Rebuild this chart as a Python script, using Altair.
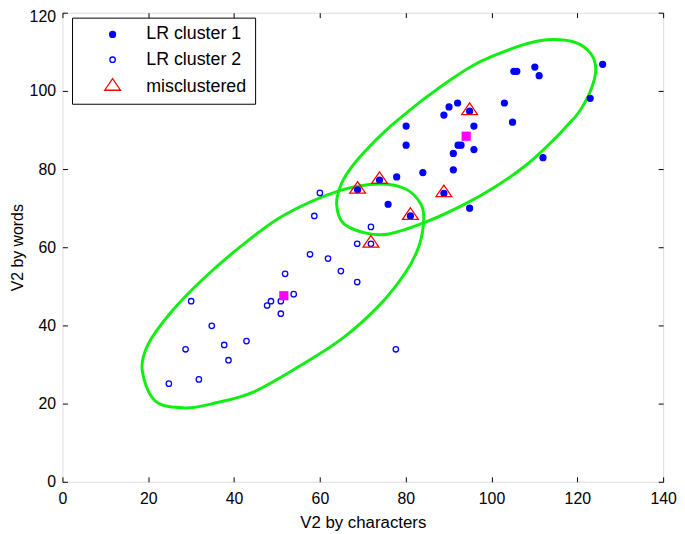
import altair as alt
import pandas as pd

# ---- data ----
c1_x = [105.2, 105.9, 110.1, 111.1, 125.9, 123.0, 103.0, 104.9, 112.0, 92.1,
        90.1, 88.9, 94.9, 95.9, 80.1, 80.1, 92.2, 92.9, 95.9, 91.1,
        91.1, 84.0, 77.9, 73.9, 68.8, 88.9, 75.9, 81.1, 94.9]
c1_y = [105.0, 105.0, 106.1, 103.9, 106.8, 98.1, 96.9, 92.0, 82.9, 96.9,
        95.9, 93.8, 94.8, 91.0, 91.0, 86.1, 86.1, 86.1, 85.0, 84.0,
        79.8, 79.1, 78.0, 77.2, 74.7, 73.8, 71.0, 68.0, 70.0]

c2_x = [60.0, 58.7, 71.9, 68.7, 71.9, 57.7, 61.9, 64.9, 51.9, 68.7,
        53.9, 48.6, 50.9, 47.7, 50.9, 30.0, 34.8, 42.9, 37.7, 28.7,
        38.7, 77.7, 31.8, 24.8]
c2_y = [73.9, 68.0, 65.2, 60.9, 60.9, 58.2, 57.1, 53.9, 53.2, 51.1,
        48.0, 46.2, 46.2, 45.1, 43.0, 46.2, 39.9, 36.0, 35.0, 33.9,
        31.1, 33.9, 26.2, 25.1]

mis_x = [94.9, 73.9, 68.8, 88.9, 81.1, 71.9]
mis_y = [94.8, 77.2, 74.7, 73.8, 68.0, 60.9]

cent_x = [94.1, 51.6]
cent_y = [88.4, 47.6]

ell1_x = [63.9, 65.0, 67.3, 70.8, 75.4, 80.0, 84.6, 90.4, 96.2, 101.9, 107.7, 113.0,
          119.2, 123.1, 124.3, 123.1, 120.4, 117.6, 114.6, 108.4, 100.8, 93.2,
          84.6, 76.1, 70.8, 65.5]
ell1_y = [71.1, 76.2, 80.4, 84.9, 89.9, 94.2, 98.2, 102.8, 106.8, 109.6, 111.9, 113.1,
          112.5, 109.6, 105.4, 100.1, 94.6, 91.1, 87.6, 81.3, 75.4, 70.7,
          66.4, 63.4, 63.6, 66.1]

ell2_x = [73.9, 80.0, 83.5, 84.2, 83.1, 80.0, 73.9, 65.4, 56.2, 44.6, 35.4, 28.5,
          21.6, 18.6, 20.0, 25.4, 33.1, 42.0, 51.6, 64.6]
ell2_y = [76.2, 74.9, 71.1, 67.0, 60.3, 53.6, 45.2, 36.8, 30.2, 23.0, 20.1, 18.9,
          20.7, 28.5, 35.2, 43.5, 52.2, 60.6, 68.2, 74.5]

series_names = ["LR cluster 1", "LR cluster 2", "misclustered"]
x_ticks = [0, 20, 40, 60, 80, 100, 120, 140]
y_ticks = [0, 20, 40, 60, 80, 100, 120]

# ---- tables ----
points = pd.DataFrame({
    "x": c1_x + c2_x + mis_x,
    "y": c1_y + c2_y + mis_y,
    "series": [series_names[0]] * len(c1_x) + [series_names[1]] * len(c2_x)
              + [series_names[2]] * len(mis_x),
})
cents = pd.DataFrame({"x": cent_x, "y": cent_y})
ells = pd.DataFrame({
    "x": ell1_x + ell2_x,
    "y": ell1_y + ell2_y,
    "ell": ["upper"] * len(ell1_x) + ["lower"] * len(ell2_x),
    "i": list(range(len(ell1_x))) + list(range(len(ell2_x))),
})

FONT = "Liberation Sans"
xs = alt.Scale(domain=[0, 140], nice=False, zero=False)
ys = alt.Scale(domain=[0, 120], nice=False, zero=False)

common_axis = dict(grid=False, domain=False, tickSize=5, offset=-5, tickColor="black",
                   tickWidth=1, labelColor="black", labelFont=FONT, labelFontSize=16,
                   titleColor="black", titleFont=FONT,
                   titleFontWeight="normal")

x_bottom = alt.Axis(orient="bottom", values=x_ticks, labelPadding=9, titlePadding=8,
                    title="V2 by characters", titleFontSize=17, labelFlush=False,
                    **common_axis)
y_left = alt.Axis(orient="left", values=y_ticks, labelPadding=7, titlePadding=4,
                  title="V2 by words", titleFontSize=16,
                  labelOffset={"condition": {"test": "datum.value == 120", "value": 4}, "value": 0},
                  **common_axis)
x_top = alt.Axis(orient="top", values=x_ticks, labels=False, title=None, **common_axis)
y_right = alt.Axis(orient="right", values=y_ticks, labels=False, title=None, **common_axis)

ellipses = alt.Chart(ells).mark_line(
    color="#11ee11", strokeWidth=3, interpolate="cardinal-closed"
).encode(
    x=alt.X("x:Q", scale=xs, axis=x_bottom),
    y=alt.Y("y:Q", scale=ys, axis=y_left),
    detail="ell:N",
    order="i:Q",
)

legend = alt.Legend(title=None, orient="none", legendX=9.7, legendY=5,
                    padding=8, strokeColor="black", fillColor="white",
                    labelFont=FONT, labelFontSize=18, labelColor="black",
                    symbolOffset=24, labelOffset=25, rowPadding=7.5,
                    symbolStrokeWidth=1.3, cornerRadius=0)

tri = "M0,-1.04L1,0.42L-1,0.42Z"
pts = alt.Chart(points).mark_point(filled=True, strokeWidth=1.3, opacity=1).encode(
    x=alt.X("x:Q", scale=xs, axis=None),
    y=alt.Y("y:Q", scale=ys, axis=None),
    shape=alt.Shape("series:N", scale=alt.Scale(domain=series_names,
                                                range=["circle", "circle", tri]),
                    legend=legend),
    fill=alt.Fill("series:N", scale=alt.Scale(domain=series_names,
                                              range=["#0000ff", "transparent", "transparent"]),
                  legend=legend),
    stroke=alt.Stroke("series:N", scale=alt.Scale(domain=series_names,
                                                  range=["#0000ff", "#0000ff", "#ff0000"]),
                      legend=legend),
    size=alt.Size("series:N", scale=alt.Scale(type="ordinal", domain=series_names,
                                              range=[36, 30, 256]),
                  legend=legend),
)

centroids = alt.Chart(cents).mark_square(color="#ff00ff", size=86, opacity=1).encode(
    x=alt.X("x:Q", scale=xs, axis=x_top),
    y=alt.Y("y:Q", scale=ys, axis=y_right),
)

chart = alt.layer(ellipses, pts, centroids).resolve_axis(
    x="independent", y="independent"
).properties(
    width=607, height=474,
    padding={"left": 55, "top": 2, "right": 14, "bottom": 50},
    autosize=alt.AutoSizeParams(type="none"),
).configure_view(
    stroke="black", strokeWidth=1
).configure(background="white")

chart.save("out.html", embed_options={"renderer": "svg", "actions": False})
